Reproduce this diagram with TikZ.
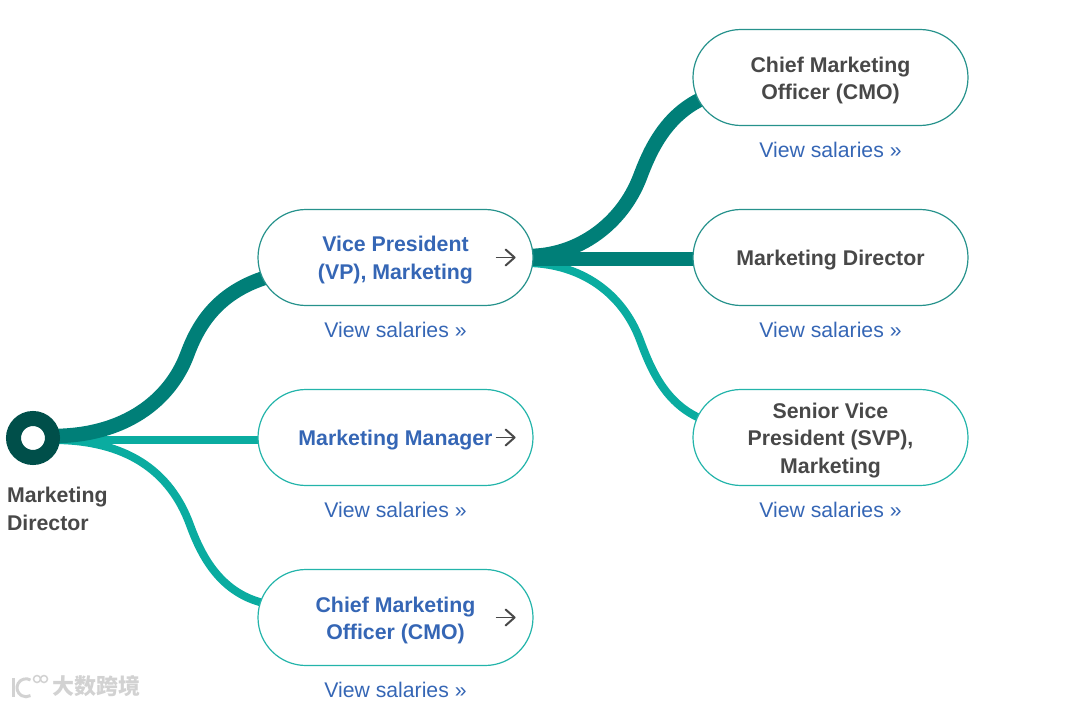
\documentclass[tikz,border=0pt]{standalone}
\usepackage{fontspec}
\setmainfont{Liberation Sans}
\newfontfamily\cjkfont{Noto Sans CJK SC}
\usetikzlibrary{arrows.meta,backgrounds,calc,positioning,shapes.misc}
\definecolor{darkteal}{HTML}{007F78}
\definecolor{lightteal}{HTML}{0AACA0}
\definecolor{ringteal}{HTML}{004F4A}
\definecolor{textgray}{HTML}{484848}
\definecolor{linkblue}{HTML}{3566B5}
\definecolor{markgray}{HTML}{D2D2D2}
\newcommand{\lowstart}{\rule{0pt}{21pt}}
\tikzset{
  rolebox/.style={rounded rectangle,draw,fill=white,line width=1.2pt,minimum width=275pt,minimum height=96pt,
    inner sep=0pt,align=center,font=\fontsize{21.3}{27.5}\selectfont\bfseries},
  nextbox/.style={rolebox,draw=darkteal!85,text=linkblue},
  nextboxlight/.style={rolebox,draw=lightteal!90,text=linkblue},
  topbox/.style={rolebox,draw=darkteal!85,text=textgray},
  topboxlight/.style={rolebox,draw=lightteal!90,text=textgray},
  salary/.style={below=12.5pt of #1,text=linkblue,font=\fontsize{21.2}{24}\selectfont},
  goarrow/.style={draw=textgray,line width=1.9pt,-{Straight Barb[length=9pt,width=16pt,line width=2pt,round]}},
  darklink/.style={draw=darkteal,line width=14.5pt},
  lightlink/.style={draw=lightteal,line width=8pt}
}
\begin{document}
\begin{tikzpicture}[x=1pt,y=-1pt]
  \useasboundingbox (0,0) rectangle (1080,706);
  % start ring
  \node[circle,draw=ringteal,line width=15pt,fill=white,minimum size=39pt,inner sep=0pt] (start) at (33,438) {};
  \node[anchor=north west,align=left,text=textgray,font=\fontsize{21.3}{27.5}\selectfont\bfseries] (startlabel) at (3.5,484) {Marketing\\Director};
  % first column
  \node[nextbox] (vp) at (395.5,257.5) {\lowstart Vice President\\(VP), Marketing};
  \node[nextboxlight] (manager) at (395.5,437.5) {\lowstart Marketing Manager};
  \node[nextboxlight] (cmoa) at (395.5,617.5) {\lowstart Chief Marketing\\Officer (CMO)};
  % second column
  \node[topbox] (cmob) at (830.5,77.5) {\lowstart Chief Marketing\\Officer (CMO)};
  \node[topbox] (director) at (830.5,257.5) {\lowstart Marketing Director};
  \node[topboxlight] (svp) at (830.5,437.5) {\lowstart Senior Vice\\President (SVP),\\Marketing};
  % salary links
  \node[salary=vp] (salvp) {View salaries »};
  \node[salary=manager] (salmanager) {View salaries »};
  \node[salary=cmoa] (salcmoa) {View salaries »};
  \node[salary=cmob] (salcmob) {View salaries »};
  \node[salary=director] (saldirector) {View salaries »};
  \node[salary=svp] (salsvp) {View salaries »};
  % arrows in the first column
  \draw[goarrow] ($(vp.east)+(-38,0)$) -- ($(vp.east)+(-18,0)$);
  \draw[goarrow] ($(manager.east)+(-38,0)$) -- ($(manager.east)+(-18,0)$);
  \draw[goarrow] ($(cmoa.east)+(-38,0)$) -- ($(cmoa.east)+(-18,0)$);
  % branches
  \begin{scope}[on background layer]
    \draw[lightlink] ($(start.center)+(20,1.5)$) -- ($(manager.west)+(5,2)$);
    \draw[lightlink] ($(start.center)+(20,2)$) .. controls (125,440) and (170,470) .. (190,525)
      .. controls (200,552) and (218,592) .. ($(cmoa.west)+(6,-14.5)$);
    \draw[darklink] ($(start.center)+(20,-2)$) .. controls (125,436) and (170,400) .. (187,355)
      .. controls (197,328) and (215,293) .. ($(vp.west)+(10,19.5)$);
    \draw[lightlink] ($(vp.east)+(-5,5.5)$) .. controls (580,264) and (622,292) .. (640,340)
      .. controls (650,367) and (664,402) .. ($(svp.west)+(7,-19.5)$);
    \draw[darklink] ($(vp.east)+(-5,1.5)$) -- ($(director.west)+(5,1.5)$);
    \draw[darklink] ($(vp.east)+(-5,-1.5)$) .. controls (578,256) and (622,224) .. (640,177)
      .. controls (649,153) and (664,118) .. ($(cmob.west)+(7,22.5)$);
  \end{scope}
  % watermark
  \node[anchor=west,text=markgray,inner sep=0pt,font=\cjkfont\bfseries\fontsize{22}{22}\selectfont] (mark) at (52,686) {大数跨境};
  \draw[markgray,line width=3pt] ($(mark.west)+(-39,-8)$) -- ($(mark.west)+(-39,11)$);
  \draw[markgray,line width=3pt] ($(mark.west)+(-21.5,-6)$) arc[start angle=-60,end angle=-300,radius=9];
  \draw[markgray,line width=1.5pt] ($(mark.west)+(-15,-7)$) circle[radius=3.5];
  \draw[markgray,line width=1.5pt] ($(mark.west)+(-8,-7)$) circle[radius=3.5];
\end{tikzpicture}
\end{document}
